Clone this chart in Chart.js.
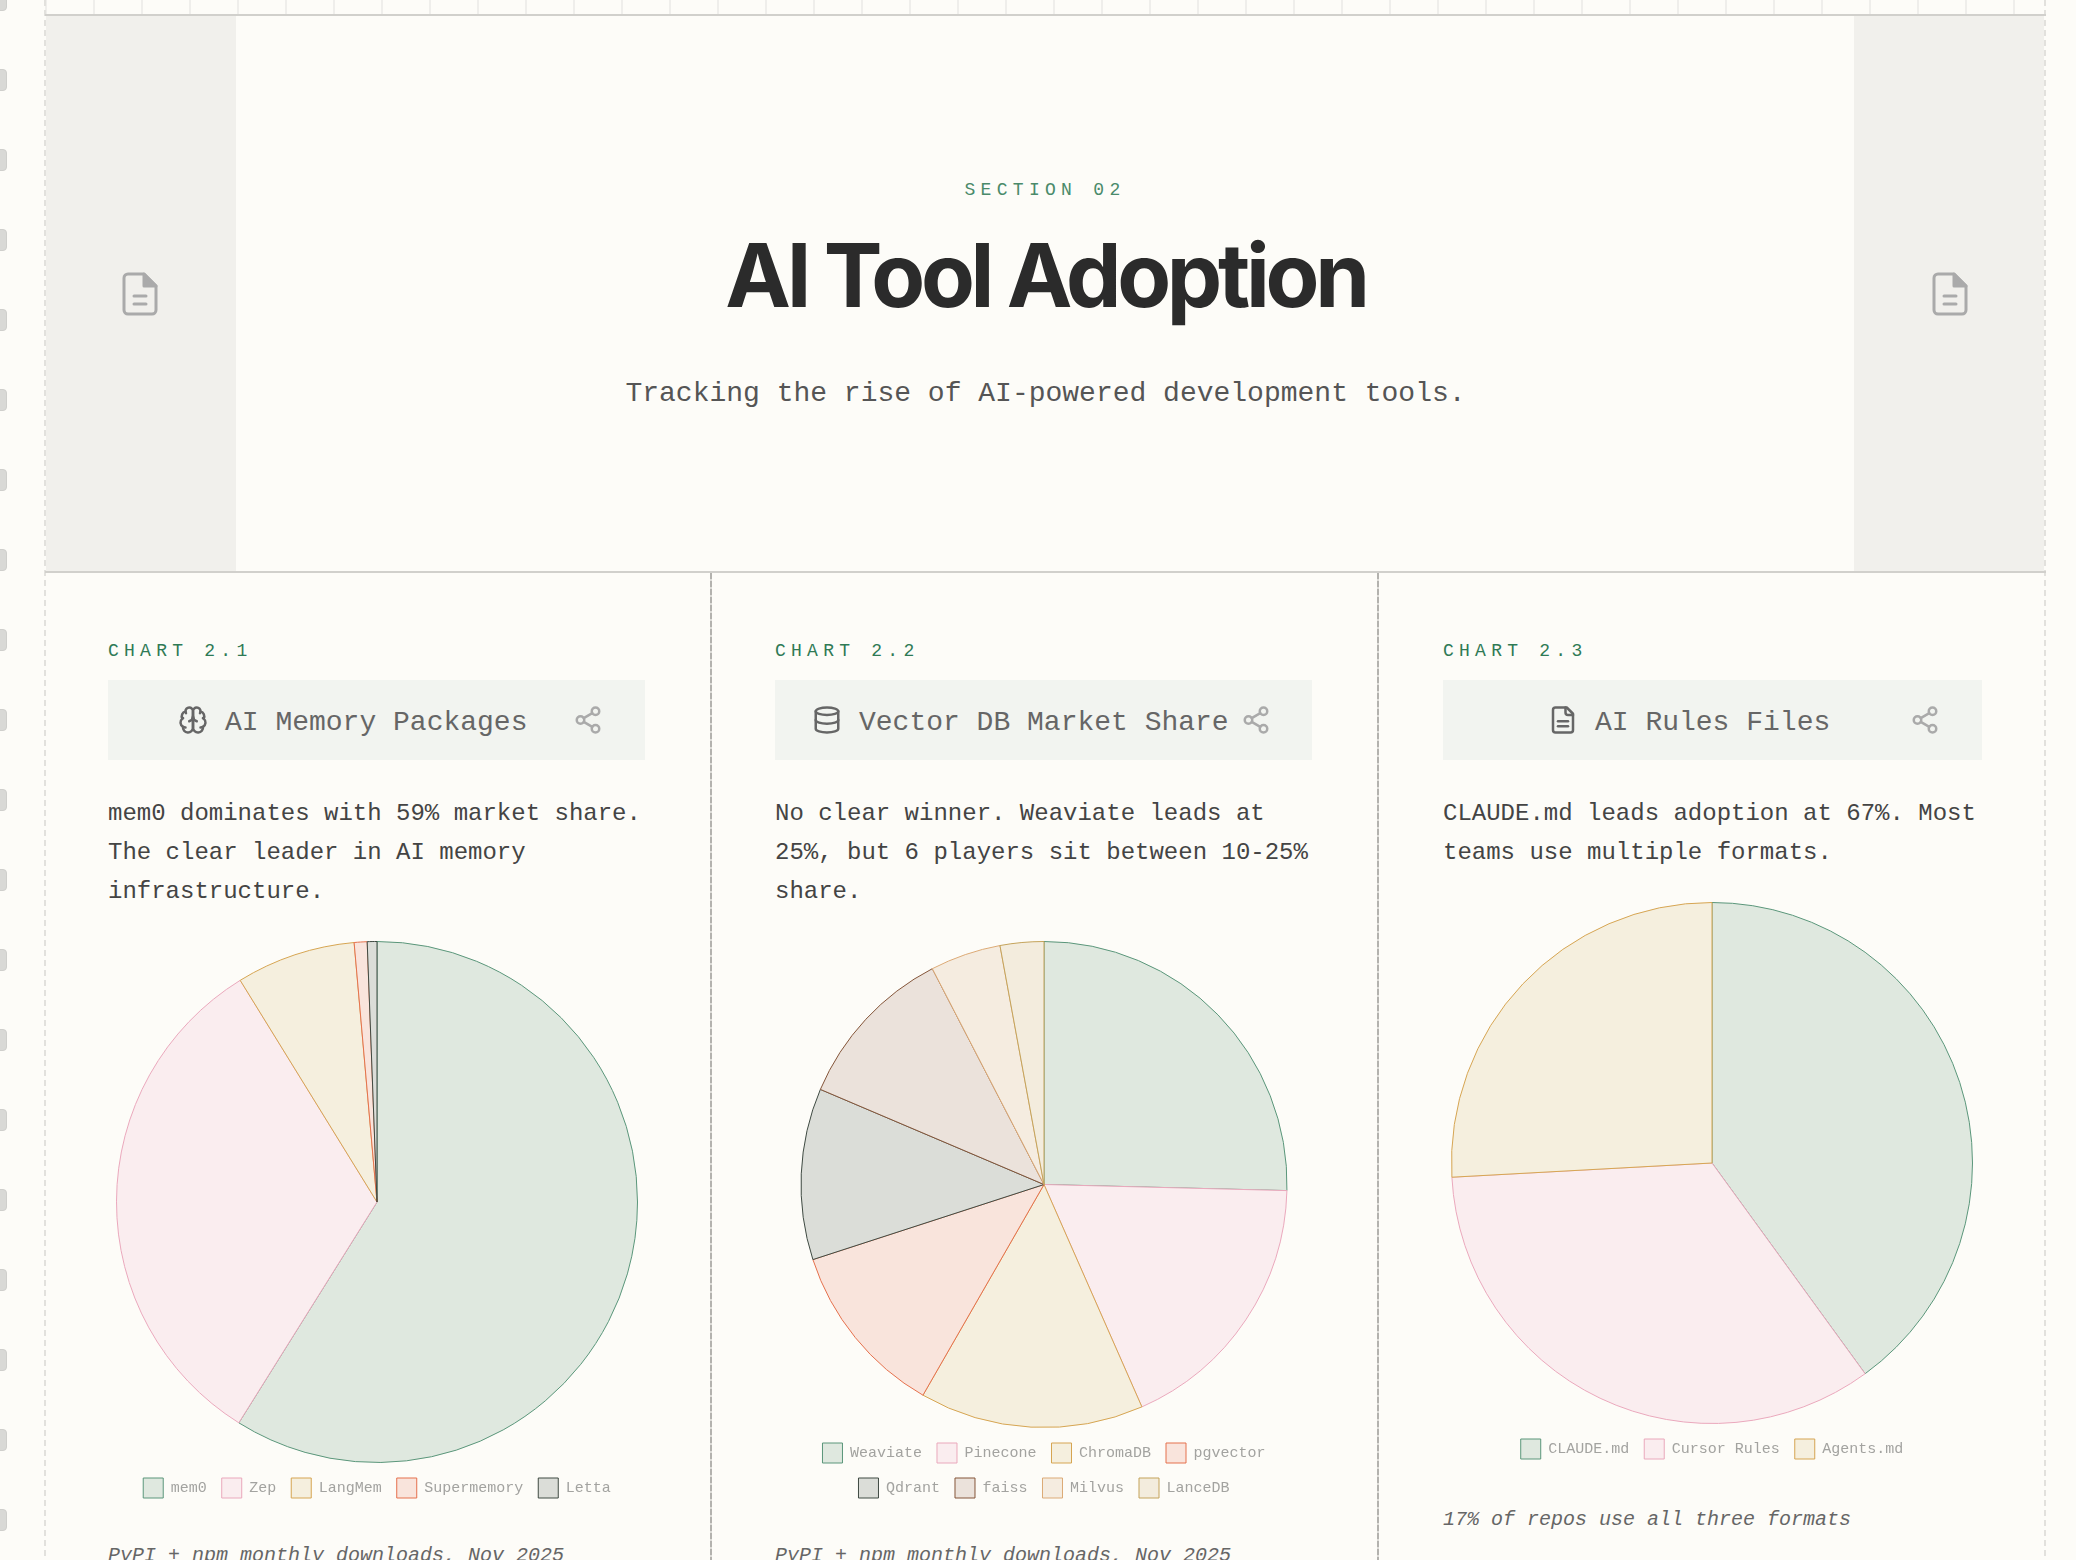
<!DOCTYPE html>
<html>
<head>
<meta charset="utf-8">
<title>AI Tool Adoption</title>
<script src="https://cdn.jsdelivr.net/npm/chart.js@4"></script>
<style>
  html, body { margin: 0; padding: 0; width: 2076px; height: 1560px; overflow: hidden; background: #fdfcf8; }
  body { position: relative; font-family: "Liberation Mono", monospace; }
  .abs { position: absolute; white-space: nowrap; }
  .hole { position: absolute; left: -5px; width: 12px; height: 22px; background: #d9d9d6; border: 1px solid #cfcfcc; border-radius: 4px; box-sizing: border-box; }
  .tick { position: absolute; top: 0; width: 2px; height: 15px; background: #efeeeb; }
  .rule { position: absolute; left: 45px; width: 2001px; height: 2px; background: #d1d0cc; }
  .panel { position: absolute; top: 16px; width: 190px; height: 555px; background: #f1f0ec; }
  .edge { position: absolute; top: 0; width: 2px; height: 1560px; background: repeating-linear-gradient(#e2e1dd 0 6px, transparent 6px 10px); }
  .col { position: absolute; top: 573px; width: 2px; height: 987px; background: repeating-linear-gradient(#b3b2ae 0 6px, #dddcd8 6px 8px); }
  .section { left: -1px; width: 2092px; text-align: center; top: 179px; font-size: 18px; line-height: 22px; letter-spacing: 5.3px; color: #4a8a6a; }
  h1 { position: absolute; margin: 0; left: 45px; width: 2001px; text-align: center; top: 223px; font: 700 88px/104px Inter, sans-serif; letter-spacing: -4.3px; color: #2b2b2b; }
  .sub { left: 45px; width: 2001px; text-align: center; top: 377px; font-size: 28px; line-height: 34px; color: #555; }
  .eyebrow { top: 640px; font-size: 18px; line-height: 22px; letter-spacing: 5.25px; color: #2f7a55; }
  .band { position: absolute; top: 680px; height: 80px; background: #f2f4f0; }
  .ctitle { top: 706px; font-size: 28px; line-height: 34px; color: #666; }
  .body { top: 794px; font-size: 24px; line-height: 39px; color: #444; white-space: pre; }
  .note { font-style: italic; font-size: 20px; line-height: 24px; color: #666; }
  .chartbox { position: absolute; width: 538px; height: 567px; }
  svg { position: absolute; fill: none; stroke-linecap: round; stroke-linejoin: round; stroke-width: 2; }
  .ico { stroke: #666; }
  .share { stroke: #aaa; }
  .doc { stroke: #aaa; stroke-width: 1.5; }
</style>
</head>
<body>
<div id="deco"></div>

<div class="panel" style="left:46px"></div>
<div class="panel" style="left:1854px"></div>
<div class="edge" style="left:44px"></div>
<div class="edge" style="left:2044px"></div>
<div class="col" style="left:710px"></div>
<div class="col" style="left:1377px"></div>
<div class="rule" style="top:14px"></div>
<div class="rule" style="top:571px"></div>

<svg class="doc" style="left:116px;top:270px" width="48" height="48" viewBox="0 0 24 24"><path d="M14 2H6a2 2 0 0 0-2 2v16a2 2 0 0 0 2 2h12a2 2 0 0 0 2-2V8z"/><path d="M14 2v6h6z" fill="#aaa"/><path d="M9 13h6M9 17h6"/></svg>
<svg class="doc" style="left:1926px;top:270px" width="48" height="48" viewBox="0 0 24 24"><path d="M14 2H6a2 2 0 0 0-2 2v16a2 2 0 0 0 2 2h12a2 2 0 0 0 2-2V8z"/><path d="M14 2v6h6z" fill="#aaa"/><path d="M9 13h6M9 17h6"/></svg>

<div class="abs section">SECTION 02</div>
<h1>AI Tool Adoption</h1>
<div class="abs sub">Tracking the rise of AI-powered development tools.</div>

<!-- chart 2.1 -->
<div class="abs eyebrow" style="left:108px">CHART 2.1</div>
<div class="band" style="left:108px;width:537px"></div>
<svg class="ico" style="left:178px;top:705px" width="30" height="30" viewBox="0 0 24 24"><path d="M12 5a3 3 0 1 0-5.997.125 4 4 0 0 0-2.526 5.77 4 4 0 0 0 .556 6.588A4 4 0 1 0 12 18Z"/><path d="M12 5a3 3 0 1 1 5.997.125 4 4 0 0 1 2.526 5.77 4 4 0 0 1-.556 6.588A4 4 0 1 1 12 18Z"/><path d="M15 13a4.5 4.5 0 0 1-3-4 4.5 4.5 0 0 1-3 4"/><path d="M17.599 6.5a3 3 0 0 0 .399-1.375"/><path d="M6.003 5.125A3 3 0 0 0 6.401 6.5"/><path d="M3.477 10.896a4 4 0 0 1 .585-.396"/><path d="M19.938 10.5a4 4 0 0 1 .585.396"/><path d="M6 18a4 4 0 0 1-1.967-.516"/><path d="M19.967 17.484A4 4 0 0 1 18 18"/></svg>
<div class="abs ctitle" style="left:225px">AI Memory Packages</div>
<svg class="share" style="left:573px;top:705px" width="30" height="30" viewBox="0 0 24 24"><circle cx="18" cy="5" r="3"/><circle cx="6" cy="12" r="3"/><circle cx="18" cy="19" r="3"/><path d="M8.59 13.51l6.83 3.98M15.41 6.51l-6.82 3.98"/></svg>
<div class="abs body" style="left:108px">mem0 dominates with 59% market share.
The clear leader in AI memory
infrastructure.</div>
<div class="chartbox" style="left:108px;top:941px"><canvas id="memoryChart"></canvas></div>
<div class="abs note" style="left:108px;top:1544px">PyPI + npm monthly downloads, Nov 2025</div>

<!-- chart 2.2 -->
<div class="abs eyebrow" style="left:775px">CHART 2.2</div>
<div class="band" style="left:775px;width:537px"></div>
<svg class="ico" style="left:812px;top:705px" width="30" height="30" viewBox="0 0 24 24"><ellipse cx="12" cy="5" rx="9" ry="3"/><path d="M3 5V19A9 3 0 0 0 21 19V5"/><path d="M3 12A9 3 0 0 0 21 12"/></svg>
<div class="abs ctitle" style="left:859px">Vector DB Market Share</div>
<svg class="share" style="left:1241px;top:705px" width="30" height="30" viewBox="0 0 24 24"><circle cx="18" cy="5" r="3"/><circle cx="6" cy="12" r="3"/><circle cx="18" cy="19" r="3"/><path d="M8.59 13.51l6.83 3.98M15.41 6.51l-6.82 3.98"/></svg>
<div class="abs body" style="left:775px">No clear winner. Weaviate leads at
25%, but 6 players sit between 10-25%
share.</div>
<div class="chartbox" style="left:775px;top:941px"><canvas id="vectorChart"></canvas></div>
<div class="abs note" style="left:775px;top:1544px">PyPI + npm monthly downloads, Nov 2025</div>

<!-- chart 2.3 -->
<div class="abs eyebrow" style="left:1443px">CHART 2.3</div>
<div class="band" style="left:1443px;width:539px"></div>
<svg class="ico" style="left:1548px;top:705px" width="30" height="30" viewBox="0 0 24 24"><path d="M15 2H6a2 2 0 0 0-2 2v16a2 2 0 0 0 2 2h12a2 2 0 0 0 2-2V7Z"/><path d="M14 2v4a2 2 0 0 0 2 2h4"/><path d="M16 13H8"/><path d="M16 17H8"/></svg>
<div class="abs ctitle" style="left:1595px">AI Rules Files</div>
<svg class="share" style="left:1910px;top:705px" width="30" height="30" viewBox="0 0 24 24"><circle cx="18" cy="5" r="3"/><circle cx="6" cy="12" r="3"/><circle cx="18" cy="19" r="3"/><path d="M8.59 13.51l6.83 3.98M15.41 6.51l-6.82 3.98"/></svg>
<div class="abs body" style="left:1443px">CLAUDE.md leads adoption at 67%. Most
teams use multiple formats.</div>
<div class="chartbox" style="left:1443px;top:902px"><canvas id="rulesChart"></canvas></div>
<div class="abs note" style="left:1443px;top:1508px">17% of repos use all three formats</div>

<script>
// values (share of the pie, percent)
const memoryLabels = ['mem0', 'Zep', 'LangMem', 'Supermemory', 'Letta'];
const memoryValues = [58.9, 32.3, 7.4, 0.8, 0.6];

const vectorLabels = ['Weaviate', 'Pinecone', 'ChromaDB', 'pgvector', 'Qdrant', 'faiss', 'Milvus', 'LanceDB'];
const vectorValues = [25.4, 18.0, 14.9, 11.7, 11.4, 11.0, 4.7, 2.9];

const rulesLabels = ['CLAUDE.md', 'Cursor Rules', 'Agents.md'];
const rulesValues = [66.8, 57, 43.2];

const fills = ['#dfe8df', '#faedef', '#f5efde', '#f9e4dc', '#dbddd8', '#ebe2db', '#f5ece0', '#f3ecdd'];
const borders = ['#5a967a', '#eaa8bc', '#d6a552', '#e5704c', '#3f4a42', '#845539', '#dcaa76', '#c4a35a'];

function createPie(id, labels, values) {
    const canvas = document.getElementById(id);
    return new Chart(canvas.getContext('2d'), {
        type: 'pie',
        data: {
            labels: labels,
            datasets: [{
                data: values,
                backgroundColor: fills.slice(0, labels.length),
                borderColor: borders.slice(0, labels.length),
                borderWidth: 1
            }]
        },
        options: {
            responsive: true,
            maintainAspectRatio: false,
            animation: false,
            plugins: {
                tooltip: { enabled: false },
                legend: {
                    position: 'bottom',
                    labels: {
                        boxWidth: 20,
                        boxHeight: 20,
                        padding: 15,
                        color: '#a3a3a0',
                        font: { family: '"Liberation Mono", monospace', size: 15 }
                    }
                }
            }
        }
    });
}

createPie('memoryChart', memoryLabels, memoryValues);
createPie('vectorChart', vectorLabels, vectorValues);
createPie('rulesChart', rulesLabels, rulesValues);

// notebook holes on the left and ruler ticks on top
const deco = document.getElementById('deco');
for (let y = -11; y < 1560; y += 80) {
    const hole = document.createElement('div');
    hole.className = 'hole';
    hole.style.top = y + 'px';
    deco.appendChild(hole);
}
for (let x = 45; x < 2046; x += 48) {
    const tick = document.createElement('div');
    tick.className = 'tick';
    tick.style.left = x + 'px';
    deco.appendChild(tick);
}
</script>
</body>
</html>
